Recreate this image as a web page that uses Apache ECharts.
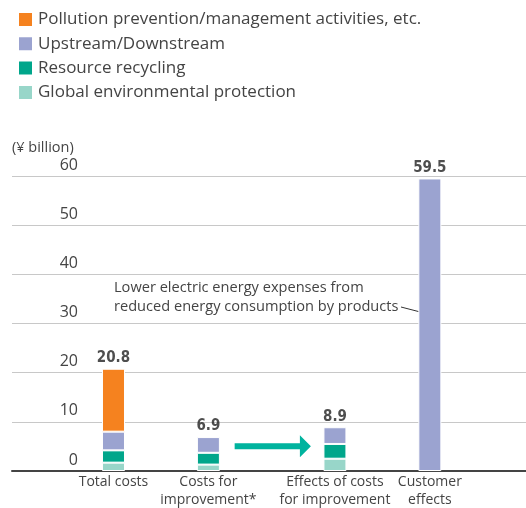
<!DOCTYPE html>
<html><head><meta charset="utf-8">
<script src="https://cdn.jsdelivr.net/npm/echarts@6/dist/echarts.min.js"></script>
<style>html,body{margin:0;padding:0;background:#fff}#c{width:526px;height:508px}</style>
</head><body><div id="c"></div>
<script>
// Data
const slots = ['Total costs', '', '', 'Costs for\nimprovement*', '', '', '', 'Effects of costs\nfor improvement', '', '', 'Customer\neffects'];
const globalProtection = [1.7, '-', '-', 1.3, '-', '-', '-', 2.5, '-', '-', '-'];
const resourceRecycling = [2.5, '-', '-', 2.4, '-', '-', '-', 3.0, '-', '-', '-'];
const upstreamDownstream = [3.8, '-', '-', 3.2, '-', '-', '-', 3.4, '-', '-', 59.5];
const pollutionPrevention = [12.8, '-', '-', '-', '-', '-', '-', '-', '-', '-', '-'];
const totals = [20.8, '-', '-', 6.9, '-', '-', '-', 8.9, '-', '-', 59.5];
const yTicks = [0, 10, 20, 30, 40, 50, 60];
const seriesNames = ['Pollution prevention/management activities, etc.', 'Upstream/Downstream', 'Resource recycling', 'Global environmental protection'];
const colors = {pollution: '#F5821F', upstream: '#9BA3D0', recycling: '#00A68B', global: '#98D6C9', arrow: '#00B39E'};

const FONT = 'Open Sans';
const BOLD = "'DejaVu Sans Condensed', 'Roboto Condensed', 'Liberation Sans', sans-serif";
const chart = echarts.init(document.getElementById('c'), null, {renderer: 'canvas'});
const barSeries = (name, arr, color) => ({
  name, type: 'bar', stack: 's', data: arr, barWidth: 23, xAxisIndex: 1, yAxisIndex: 1,
  itemStyle: {color, borderColor: '#fff', borderWidth: 1}
});
chart.setOption({
  animation: false,
  textStyle: {fontFamily: FONT},
  legend: {
    orient: 'vertical', left: 17, top: 11, padding: 0, itemWidth: 15, itemHeight: 15, itemGap: 7.3,
    icon: 'rect', selectedMode: false,
    data: seriesNames,
    textStyle: {fontFamily: FONT, fontSize: 17, lineHeight: 16, color: '#444'}
  },
  grid: [
    {left: 12, right: 0, top: 176, bottom: 37, outerBoundsMode: 'none', containLabel: false},
    {left: 97.67, right: 80.33, top: 176, bottom: 37, outerBoundsMode: 'none', containLabel: false}
  ],
  xAxis: [
    {
      type: 'value', gridIndex: 0, min: 0, max: 1,
      splitLine: {show: false}, axisTick: {show: false}, axisLabel: {show: false},
      axisLine: {show: true, onZero: false, lineStyle: {color: '#444', width: 2}}
    },
    {
      type: 'category', gridIndex: 1, data: slots,
      axisLine: {show: false}, axisTick: {show: false}, splitLine: {show: false},
      axisLabel: {interval: 0, fontFamily: FONT, fontSize: 14, color: '#444', lineHeight: 18, margin: 2}
    }
  ],
  yAxis: [
    {
      type: 'value', gridIndex: 0, min: 0, max: 60, interval: 10,
      axisLine: {show: false}, axisTick: {show: false},
      splitLine: {lineStyle: {color: '#c8c8c8', width: 1}},
      axisLabel: {
        inside: true, margin: 66, align: 'right', verticalAlign: 'bottom',
        fontFamily: FONT, fontSize: 16, color: '#444', padding: [0, 0, 3, 0],
        formatter: v => yTicks.includes(v) ? String(v) : ''
      }
    },
    {
      type: 'value', gridIndex: 1, min: 0, max: 60, interval: 10, show: false
    }
  ],
  series: [
    barSeries(seriesNames[3], globalProtection, colors.global),
    barSeries(seriesNames[2], resourceRecycling, colors.recycling),
    barSeries(seriesNames[1], upstreamDownstream, colors.upstream),
    barSeries(seriesNames[0], pollutionPrevention, colors.pollution),
    {
      name: 'totals', type: 'scatter', symbolSize: 0, xAxisIndex: 1, yAxisIndex: 1, data: totals,
      label: {show: true, position: 'top', distance: 3, formatter: p => Number(p.value).toFixed(1),
        fontFamily: BOLD, fontWeight: 'bold', fontSize: 15, color: '#222'}
    }
  ]
});

// Arrow between "Costs for improvement" and "Effects" (positions interpolated between category slots)
const slotX = i => chart.convertToPixel({xAxisIndex: 1, yAxisIndex: 1}, [i, 0])[0];
const slotStep = slotX(4) - slotX(3);
const arrowY = chart.convertToPixel({xAxisIndex: 1, yAxisIndex: 1}, [3, 5.05])[1];
const ax0 = slotX(3) + 0.83 * slotStep;
const ax1 = slotX(6) + 0.24 * slotStep;
const shaft = 6, headH = 22, headL = 11;
chart.setOption({
  graphic: [
    {type: 'text', left: 12, top: 140, style: {text: '(¥ billion)', font: '14.5px "Open Sans"', fill: '#444'}},
    {type: 'text', left: 114, top: 278, style: {text: 'Lower electric energy expenses from\nreduced energy consumption by products', font: '14.6px "Open Sans"', fill: '#444', lineHeight: 19}},
    {type: 'line', shape: {x1: 401, y1: 307, x2: 428, y2: 314}, style: {stroke: '#333', lineWidth: 1}},
    {type: 'polygon', shape: {points: [
      [ax0, arrowY - shaft / 2], [ax1 - headL, arrowY - shaft / 2], [ax1 - headL, arrowY - headH / 2],
      [ax1, arrowY], [ax1 - headL, arrowY + headH / 2], [ax1 - headL, arrowY + shaft / 2], [ax0, arrowY + shaft / 2]
    ]}, style: {fill: colors.arrow}}
  ]
});
</script></body></html>
